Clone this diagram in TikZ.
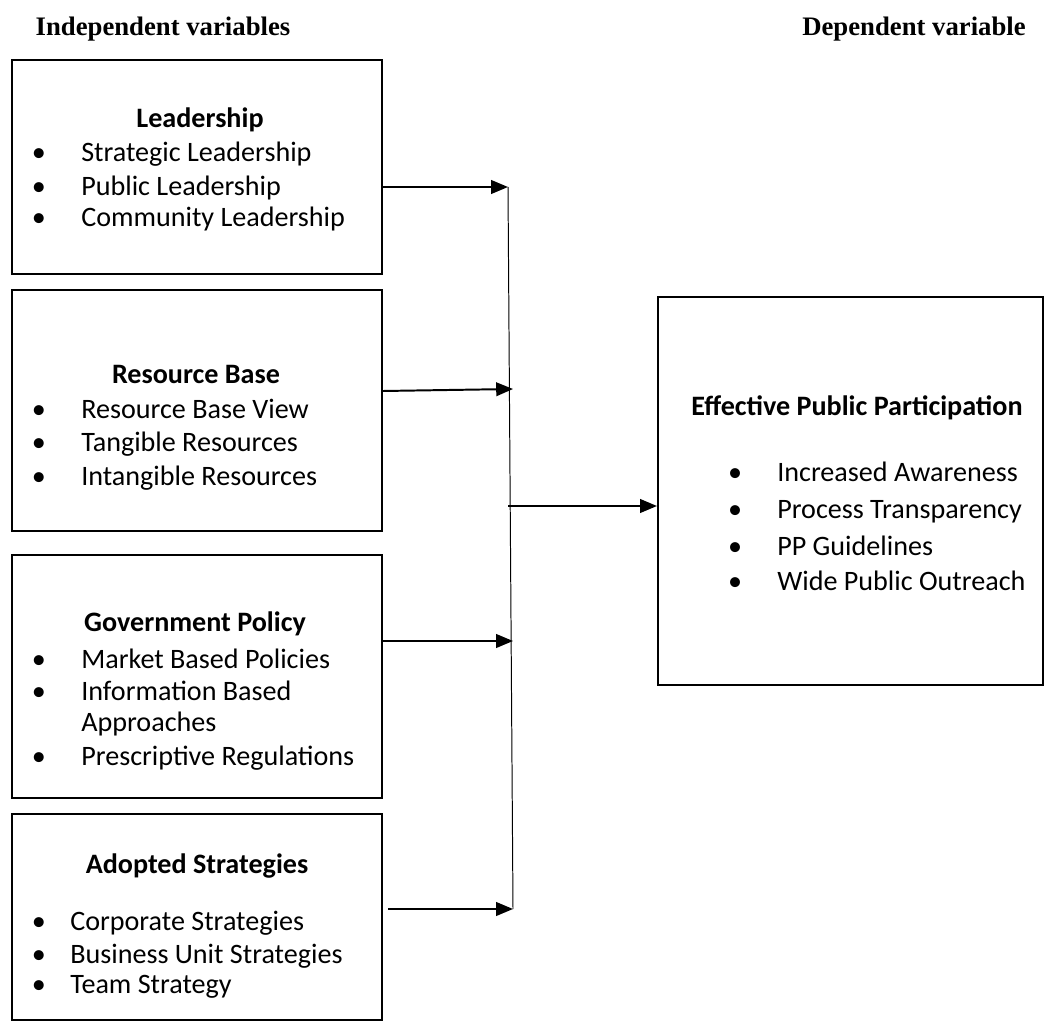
\documentclass[tikz,border=0pt]{standalone}
\usepackage{fontspec}
\setmainfont{Carlito}
\newfontfamily\titlefont{Liberation Serif}
\usetikzlibrary{arrows.meta}

\tikzset{
  varbox/.style={draw, rectangle, line width=1.4pt, fill=white},
  head/.style={font=\fontsize{20pt}{24pt}\selectfont\bfseries, anchor=mid, inner sep=0pt, yshift=-0.14cm},
  item/.style={font=\fontsize{20pt}{24pt}\selectfont, anchor=mid west, inner sep=0pt, yshift=-0.12cm},
  dot/.style={font=\fontsize{20pt}{24pt}\selectfont, anchor=mid, inner sep=0pt, yshift=-0.12cm},
  coltitle/.style={font=\fontsize{19pt}{23pt}\selectfont\titlefont\bfseries, anchor=mid, inner sep=0pt, yshift=-0.12cm},
  link/.style={line width=1.4pt, -{Triangle[length=0.42cm,width=0.34cm]}},
}

\begin{document}
\begin{tikzpicture}[x=0.025cm, y=-0.025cm]%
\useasboundingbox (0,0) rectangle (1045,1024);%
% column titles
\node[coltitle] (indep) at (163,27) {Independent variables};%
\node[coltitle] (dep) at (914,27) {Dependent variable};%
% boxes
\node[varbox, minimum width=9.25cm, minimum height=5.35cm] (lead) at (197,167) {};%
\node[varbox, minimum width=9.25cm, minimum height=6.025cm] (res) at (197,410.5) {};%
\node[varbox, minimum width=9.25cm, minimum height=6.075cm] (gov) at (197,676.5) {};%
\node[varbox, minimum width=9.25cm, minimum height=5.15cm] (adopt) at (197,917) {};%
\node[varbox, minimum width=9.625cm, minimum height=9.7cm] (epp) at (850.5,491) {};%
% Leadership
\node[head] (leadh) at (200,119) {Leadership};%
\node[dot] (leadd1) at (39,153) {•};%
\node[item] (lead1) at (81,153) {Strategic Leadership};%
\node[dot] (leadd2) at (39,187) {•};%
\node[item] (lead2) at (81,187) {Public Leadership};%
\node[dot] (leadd3) at (39,218) {•};%
\node[item] (lead3) at (81,218) {Community Leadership};%
% Resource Base
\node[head] (resh) at (196,375) {Resource Base};%
\node[dot] (resd1) at (39,410) {•};%
\node[item] (res1) at (81,410) {Resource Base View};%
\node[dot] (resd2) at (39,443) {•};%
\node[item] (res2) at (81,443) {Tangible Resources};%
\node[dot] (resd3) at (39,477) {•};%
\node[item] (res3) at (81,477) {Intangible Resources};%
% Government Policy
\node[head] (govh) at (195,623) {Government Policy};%
\node[dot] (govd1) at (39,660) {•};%
\node[item] (gov1) at (81,660) {Market Based Policies};%
\node[dot] (govd2) at (39,692) {•};%
\node[item] (gov2) at (81,692) {Information Based};%
\node[item] (gov2b) at (81,723) {Approaches};%
\node[dot] (govd3) at (39,757) {•};%
\node[item] (gov3) at (81,757) {Prescriptive Regulations};%
% Adopted Strategies
\node[head] (adopth) at (197,865) {Adopted Strategies};%
\node[dot] (adoptd1) at (39,922) {•};%
\node[item] (adopt1) at (70,922) {Corporate Strategies};%
\node[dot] (adoptd2) at (39,955) {•};%
\node[item] (adopt2) at (70,955) {Business Unit Strategies};%
\node[dot] (adoptd3) at (39,985) {•};%
\node[item] (adopt3) at (70,985) {Team Strategy};%
% Effective Public Participation
\node[head] (epph) at (857,407) {Effective Public Participation};%
\node[dot] (eppd1) at (735,473) {•};%
\node[item] (epp1) at (777,473) {Increased Awareness};%
\node[dot] (eppd2) at (735,510) {•};%
\node[item] (epp2) at (777,510) {Process Transparency};%
\node[dot] (eppd3) at (735,547) {•};%
\node[item] (epp3) at (777,547) {PP Guidelines};%
\node[dot] (eppd4) at (735,582) {•};%
\node[item] (epp4) at (777,582) {Wide Public Outreach};%
% bar and connectors
\coordinate (bartop) at (508,187);%
\coordinate (barbot) at (513,909);%
\coordinate (t2) at (513,389);%
\coordinate (t3) at (513,641);%
\coordinate (barmid) at (508,506);%
\draw[line width=0.7pt] (bartop) -- (barbot);%
\draw[link] (lead.east |- bartop) -- (bartop);%
\draw[link] (res.east |- 0,391) -- (t2);%
\draw[link] (gov.east |- t3) -- (t3);%
\draw[link] ([xshift=0.125cm]adopt.east |- barbot) -- (barbot);%
\draw[link] (barmid) -- (epp.west |- barmid);%
\end{tikzpicture}
\end{document}
